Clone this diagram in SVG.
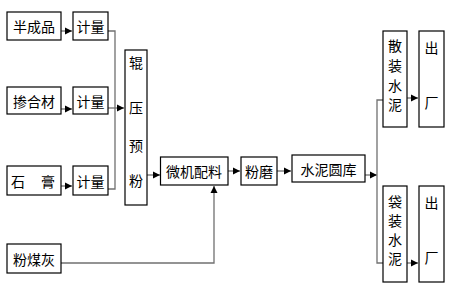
<svg xmlns="http://www.w3.org/2000/svg" width="450" height="294" viewBox="0 0 450 294">
<defs>
<marker id="ah" markerWidth="8" markerHeight="8" refX="7" refY="4" orient="auto" markerUnits="userSpaceOnUse">
<path d="M0,0.5 L7,4 L0,7.5 Z" fill="#000"/>
</marker>
<style>
rect{fill:#fff;stroke:#000;stroke-width:1.2}
text{font-family:"Noto Sans CJK SC","Noto Sans CJK JP",sans-serif;font-size:14px;fill:#000;text-anchor:middle;dominant-baseline:central}
.c{fill:none;stroke:#707070;stroke-width:1.3}
.a{marker-end:url(#ah)}
</style>
</defs>
<rect x="0" y="0" width="450" height="294" style="stroke:none"/>
<g id="connectors">
<path class="c a" d="M61,31 H72"/>
<path class="c a" d="M61,109 H72"/>
<path class="c a" d="M61,186 H72"/>
<path class="c" d="M108,31 H115 V189 H108"/>
<path class="c a" d="M108,108 H124"/>
<path class="c a" d="M147,175 H160"/>
<path class="c a" d="M228,171 H240"/>
<path class="c a" d="M277,171 H291"/>
<path class="c a" d="M365,175 H377"/>
<path class="c" d="M383,100 H377 V263 H383"/>
<path class="c a" d="M407,98 H418"/>
<path class="c a" d="M407,263 H418"/>
<path class="c a" d="M61,263 H214 V186"/>
</g>
<g id="n1"><rect x="7" y="12" width="54" height="28"/><text x="34" y="26">半成品</text></g>
<g id="n2"><rect x="73" y="12" width="35" height="28"/><text x="90.5" y="26">计量</text></g>
<g id="n3"><rect x="7" y="87" width="54" height="27"/><text x="34" y="101">掺合材</text></g>
<g id="n4"><rect x="73" y="87" width="35" height="27"/><text x="90.5" y="101">计量</text></g>
<g id="n5"><rect x="7" y="166" width="54" height="29"/><text x="18" y="181">石</text><text x="48" y="181">膏</text></g>
<g id="n6"><rect x="73" y="166" width="35" height="29"/><text x="90.5" y="181">计量</text></g>
<g id="n7"><rect x="125" y="50" width="22" height="155"/><text x="136" y="62">辊</text><text x="136" y="107">压</text><text x="136" y="145">预</text><text x="136" y="180">粉</text></g>
<g id="n8"><rect x="160.5" y="157" width="67.5" height="28"/><text x="194" y="171">微机配料</text></g>
<g id="n9"><rect x="241" y="157" width="36" height="28"/><text x="259" y="171">粉磨</text></g>
<g id="n10"><rect x="292" y="155" width="73" height="27"/><text x="328.5" y="168.5">水泥圆库</text></g>
<g id="n11"><rect x="383" y="31" width="24" height="96"/><text x="395" y="45">散</text><text x="395" y="65">装</text><text x="395" y="85">水</text><text x="395" y="104">泥</text></g>
<g id="n12"><rect x="419" y="31" width="25" height="96"/><text x="431.5" y="47">出</text><text x="431.5" y="102">厂</text></g>
<g id="n13"><rect x="383" y="186" width="24" height="96"/><text x="395" y="201">袋</text><text x="395" y="220">装</text><text x="395" y="239">水</text><text x="395" y="258">泥</text></g>
<g id="n14"><rect x="419" y="186" width="25" height="96"/><text x="431.5" y="202">出</text><text x="431.5" y="257">厂</text></g>
<g id="n15"><rect x="7" y="244" width="54" height="29"/><text x="34" y="258.5">粉煤灰</text></g>
</svg>
